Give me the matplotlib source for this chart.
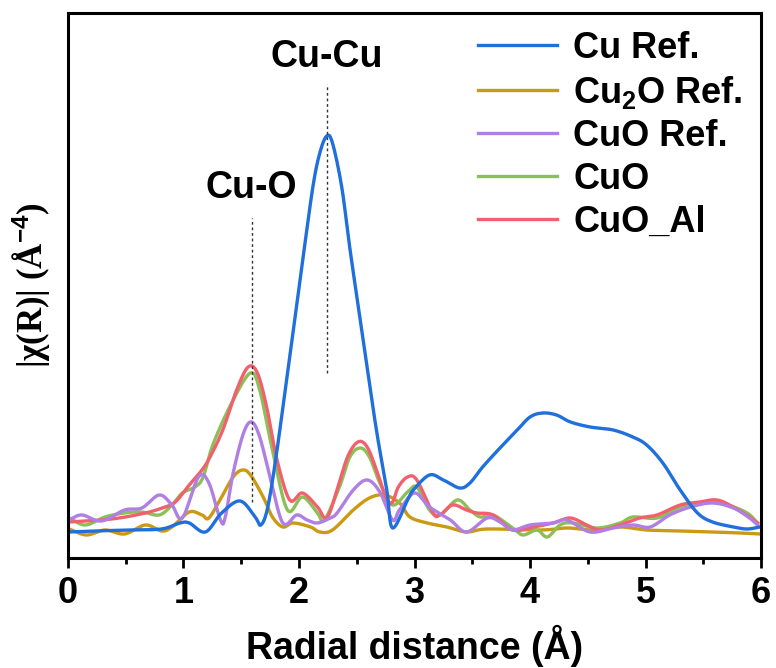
import numpy as np
import matplotlib.pyplot as plt

# R (A) and |chi(R)| (arbitrary units)
cu_ref_r = [0.01, 0.23, 0.53, 0.81, 0.97, 1.05, 1.19, 1.33, 1.49, 1.62, 1.67, 1.73, 1.81, 1.92,
            1.97, 2.03, 2.12, 2.18, 2.24, 2.29, 2.37, 2.44, 2.53, 2.61, 2.68, 2.76, 2.81, 2.94,
            2.99, 3.13, 3.25, 3.39, 3.48, 3.59, 3.74, 3.89, 4.00, 4.11, 4.23, 4.35, 4.52, 4.72,
            4.89, 5.01, 5.15, 5.30, 5.45, 5.58, 5.76, 5.88, 5.99]
cu_ref_y = [0.26, 0.27, 0.28, 0.29, 0.35, 0.35, 0.26, 0.45, 0.57, 0.41, 0.33, 0.51, 1.08, 2.02,
            2.44, 2.96, 3.71, 4.05, 4.22, 4.15, 3.71, 3.10, 2.38, 1.74, 1.21, 0.68, 0.30, 0.58,
            0.68, 0.83, 0.78, 0.70, 0.75, 0.91, 1.10, 1.28, 1.41, 1.45, 1.43, 1.36, 1.31, 1.28,
            1.21, 1.13, 0.95, 0.68, 0.45, 0.36, 0.31, 0.29, 0.31]

cu2o_r = [0.01, 0.16, 0.32, 0.49, 0.67, 0.81, 0.90, 1.05, 1.16, 1.22, 1.33, 1.43, 1.51, 1.58,
          1.69, 1.77, 1.86, 1.95, 2.10, 2.18, 2.29, 2.47, 2.61, 2.74, 2.87, 2.96, 3.11, 3.28,
          3.45, 3.63, 4.09, 4.32, 4.55, 4.78, 5.01, 5.30, 5.58, 5.82, 5.99]
cu2o_y = [0.29, 0.23, 0.28, 0.24, 0.33, 0.27, 0.31, 0.46, 0.43, 0.40, 0.61, 0.81, 0.88, 0.83,
          0.61, 0.41, 0.31, 0.35, 0.31, 0.26, 0.28, 0.48, 0.60, 0.63, 0.55, 0.41, 0.35, 0.31,
          0.26, 0.29, 0.28, 0.30, 0.28, 0.31, 0.28, 0.27, 0.26, 0.25, 0.24]

cuo_ref_r = [0.01, 0.12, 0.29, 0.49, 0.64, 0.79, 0.90, 0.99, 1.13, 1.22, 1.32, 1.36, 1.43, 1.52,
             1.59, 1.66, 1.75, 1.86, 1.98, 2.07, 2.16, 2.27, 2.33, 2.47, 2.59, 2.70, 2.81, 2.87,
             3.00, 3.13, 3.31, 3.45, 3.63, 3.74, 3.85, 4.00, 4.20, 4.32, 4.52, 4.72, 4.89, 5.04,
             5.21, 5.39, 5.58, 5.76, 5.90, 5.97]
cuo_ref_y = [0.38, 0.43, 0.37, 0.48, 0.50, 0.63, 0.53, 0.40, 0.81, 0.75, 0.38, 0.40, 0.85, 1.25,
             1.36, 1.21, 0.81, 0.35, 0.43, 0.38, 0.35, 0.40, 0.45, 0.68, 0.78, 0.66, 0.38, 0.48,
             0.65, 0.51, 0.38, 0.26, 0.40, 0.36, 0.28, 0.33, 0.35, 0.38, 0.26, 0.30, 0.33, 0.31,
             0.43, 0.51, 0.55, 0.50, 0.40, 0.33]

cuo_r = [0.01, 0.15, 0.32, 0.49, 0.64, 0.79, 0.90, 0.99, 1.10, 1.17, 1.26, 1.43, 1.58, 1.66,
         1.77, 1.90, 2.03, 2.16, 2.22, 2.35, 2.44, 2.53, 2.61, 2.70, 2.81, 2.94, 3.02, 3.13,
         3.22, 3.37, 3.48, 3.57, 3.68, 3.85, 3.94, 4.06, 4.15, 4.26, 4.37, 4.58, 4.78, 4.89,
         5.10, 5.30, 5.53, 5.71, 5.88, 5.97]
cuo_y = [0.40, 0.33, 0.41, 0.45, 0.46, 0.43, 0.53, 0.65, 0.71, 0.81, 1.15, 1.58, 1.85, 1.68,
         1.08, 0.48, 0.61, 0.45, 0.38, 0.71, 1.01, 1.10, 1.01, 0.75, 0.53, 0.66, 0.71, 0.48,
         0.43, 0.58, 0.48, 0.41, 0.43, 0.30, 0.23, 0.28, 0.21, 0.33, 0.35, 0.30, 0.35, 0.41,
         0.40, 0.51, 0.56, 0.53, 0.45, 0.35]

cuo_al_r = [0.01, 0.38, 0.67, 0.84, 0.93, 1.05, 1.16, 1.23, 1.34, 1.46, 1.56, 1.64, 1.72, 1.81,
            1.92, 2.03, 2.16, 2.24, 2.33, 2.42, 2.51, 2.59, 2.68, 2.76, 2.81, 2.86, 2.94, 3.02,
            3.16, 3.22, 3.33, 3.45, 3.54, 3.68, 3.85, 4.03, 4.20, 4.35, 4.49, 4.61, 4.78, 4.95,
            5.10, 5.30, 5.47, 5.62, 5.76, 5.90, 5.97]
cuo_al_y = [0.36, 0.39, 0.45, 0.51, 0.56, 0.73, 0.88, 1.01, 1.28, 1.68, 1.91, 1.85, 1.51, 0.98,
            0.58, 0.65, 0.51, 0.40, 0.68, 1.01, 1.16, 1.11, 0.85, 0.58, 0.56, 0.71, 0.81, 0.78,
            0.45, 0.43, 0.53, 0.48, 0.45, 0.43, 0.28, 0.31, 0.35, 0.40, 0.33, 0.28, 0.33, 0.40,
            0.43, 0.53, 0.56, 0.58, 0.51, 0.41, 0.35]

peak_names = ['Cu-O', 'Cu-Cu']
peak_pos = [1.59, 2.24]
peak_lo = [0.56, 1.85]
peak_hi = [3.40, 4.74]
label_y = [3.70, 5.01]


def smooth(x, y, n=12):
    # catmull-rom through the read points, just so the curves are not jagged
    x = np.asarray(x, float)
    y = np.asarray(y, float)
    px = np.concatenate([[2 * x[0] - x[1]], x, [2 * x[-1] - x[-2]]])
    py = np.concatenate([[2 * y[0] - y[1]], y, [2 * y[-1] - y[-2]]])
    t = np.linspace(0, 1, n, endpoint=False)
    xs, ys = [], []
    for i in range(1, len(px) - 2):
        for p, out in ((px, xs), (py, ys)):
            p0, p1, p2, p3 = p[i - 1], p[i], p[i + 1], p[i + 2]
            out.append(0.5 * (2 * p1 + (-p0 + p2) * t + (2 * p0 - 5 * p1 + 4 * p2 - p3) * t ** 2
                              + (-p0 + 3 * p1 - 3 * p2 + p3) * t ** 3))
    return np.concatenate(xs + [[x[-1]]]), np.concatenate(ys + [[y[-1]]])


plt.rcParams['font.family'] = ['Liberation Sans', 'DejaVu Sans']
plt.rcParams['font.weight'] = 'bold'
plt.rcParams['mathtext.fontset'] = 'custom'
plt.rcParams['mathtext.rm'] = 'Liberation Sans:bold'
plt.rcParams['mathtext.it'] = 'Liberation Sans:bold'
plt.rcParams['mathtext.bf'] = 'Liberation Sans:bold'

fig = plt.figure(figsize=(7.76, 6.68), dpi=100)
ax = fig.add_axes([0.0876, 0.1647, 0.8931, 0.8158])

lw = 2.4
l2, = ax.plot(*smooth(cu2o_r, cu2o_y), color='#cc9a12', lw=lw)
l4, = ax.plot(*smooth(cuo_r, cuo_y), color='#8dbf58', lw=lw)
l5, = ax.plot(*smooth(cuo_al_r, cuo_al_y), color='#f2606e', lw=lw)
l3, = ax.plot(*smooth(cuo_ref_r, cuo_ref_y), color='#b07fe2', lw=lw)
l1, = ax.plot(*smooth(cu_ref_r, cu_ref_y), color='#1f6fdc', lw=lw)

for name, r, lo, hi, ty in zip(peak_names, peak_pos, peak_lo, peak_hi, label_y):
    ax.plot([r, r], [lo, hi], color='#333333', lw=1.0, ls=(0, (2, 2)))
    ax.text(r, ty, name, ha='center', va='center', fontsize=27, fontweight='bold')

ax.set_xlim(0, 6)
ax.set_ylim(0, 5.45)
ax.set_xticks([0, 1, 2, 3, 4, 5, 6])
ax.set_xticks(np.arange(0.5, 6, 1), minor=True)
ax.set_yticks([])
ax.tick_params(axis='x', which='major', length=7, width=2, labelsize=26, pad=6)
ax.tick_params(axis='x', which='minor', length=4, width=2)
for s in ax.spines.values():
    s.set_linewidth(2.2)
for lab in ax.get_xticklabels():
    lab.set_fontweight('bold')

ax.set_xlabel('Radial distance (Å)', fontsize=27, fontweight='bold')
ax.xaxis.set_label_coords(0.5, -0.122)
ax.set_ylabel('|χ(R)| (Å$^{-4}$)', fontsize=25, fontweight='bold',
              family=['Liberation Serif', 'DejaVu Serif'])
ax.yaxis.set_label_coords(-0.022, 0.5)

ax.legend([l1, l2, l3, l4, l5], ['Cu Ref.', 'Cu$_2$O Ref.', 'CuO Ref.', 'CuO', 'CuO_Al'],
          loc='upper right', bbox_to_anchor=(1.0, 1.0), frameon=False,
          handlelength=2.2, handletextpad=0.45, labelspacing=0.22, borderaxespad=0.1,
          prop={'weight': 'bold', 'size': 26})

fig.savefig('out.png', dpi=100)
